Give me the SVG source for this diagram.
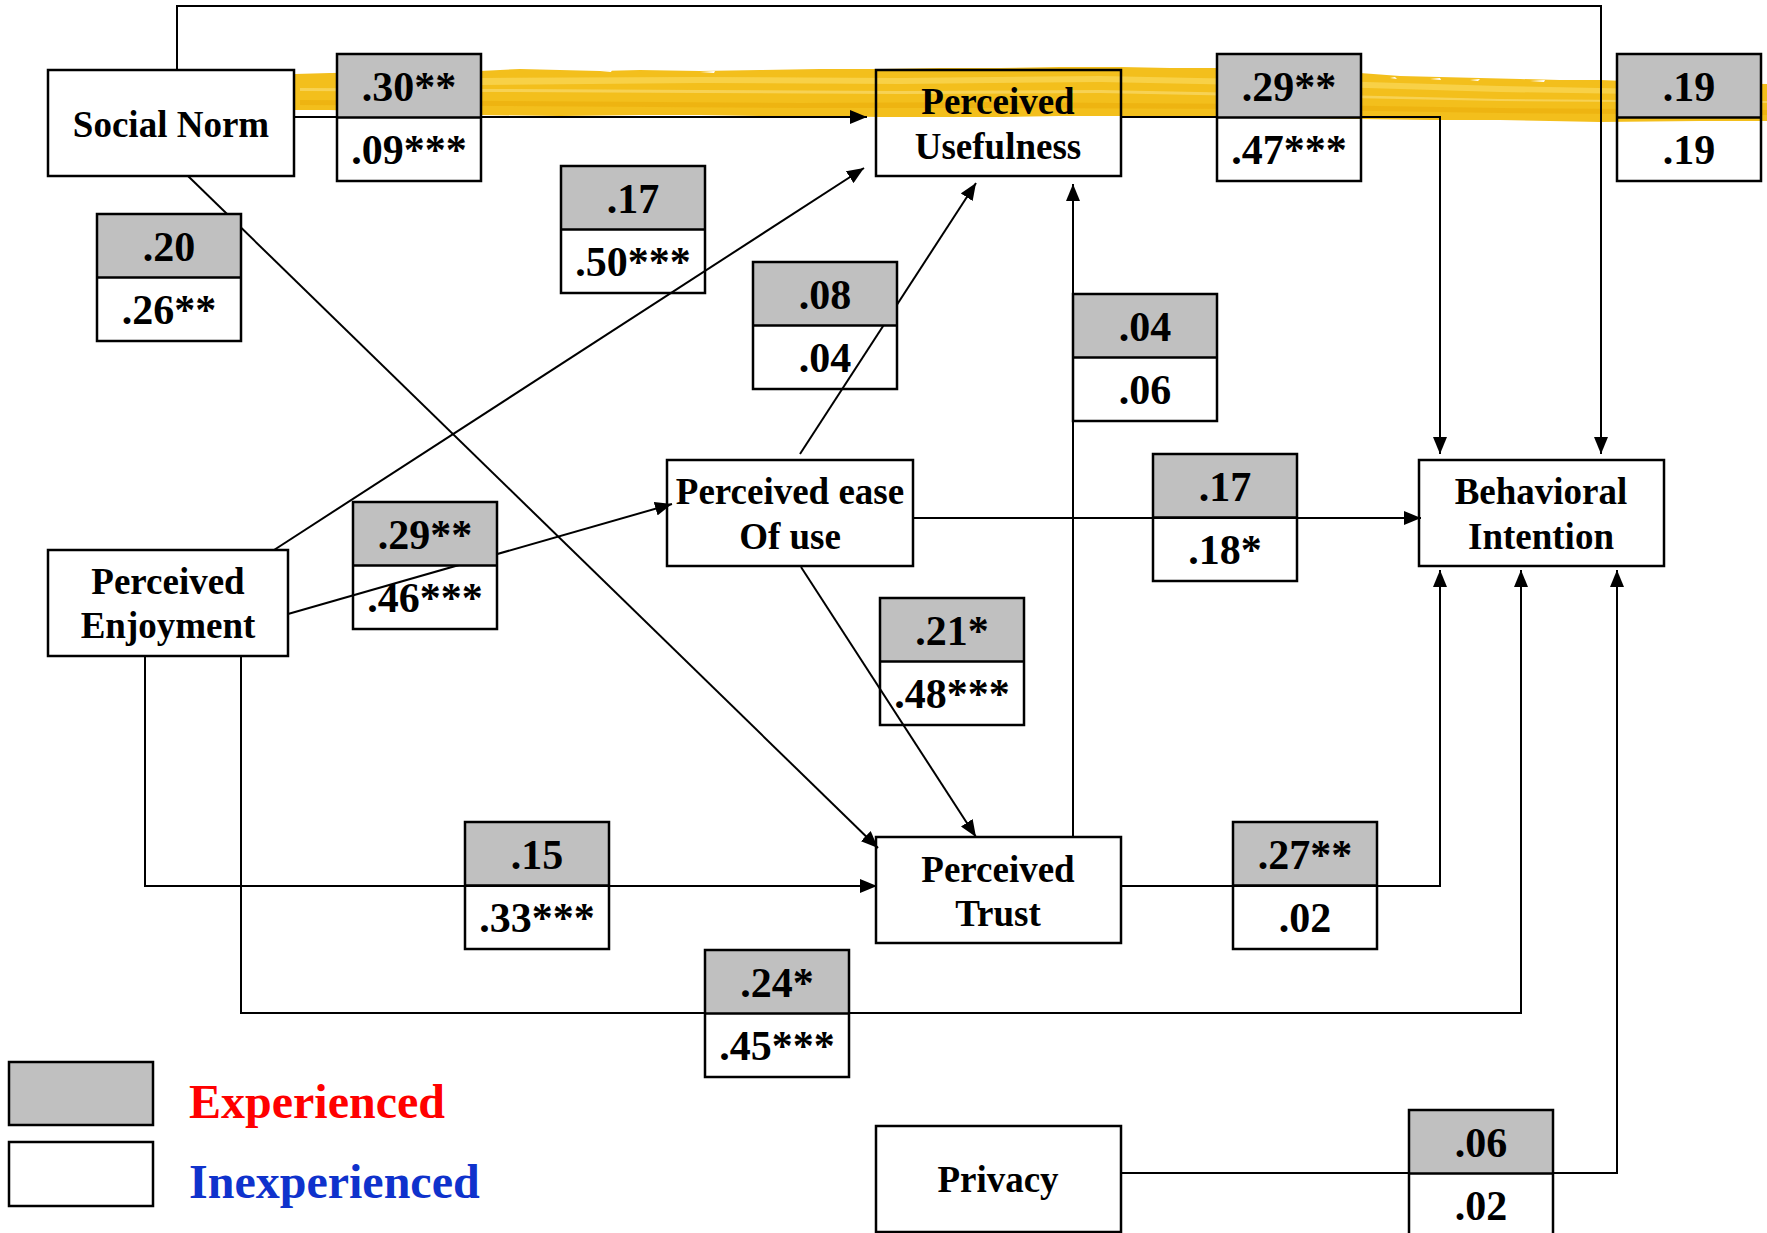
<svg xmlns="http://www.w3.org/2000/svg" width="1767" height="1233" viewBox="0 0 1767 1233">
<style>
.node{fill:none;stroke:#000;stroke-width:2.5}
.nt{font-family:"Liberation Serif","Times New Roman",serif;font-weight:bold;font-size:37px;text-anchor:middle;fill:#000}
.cv{font-family:"Liberation Serif","Times New Roman",serif;font-weight:bold;font-size:42px;text-anchor:middle;fill:#000}
.exp{fill:#C0C0C0;stroke:none}
.cb{fill:none;stroke:#000;stroke-width:2.5}
.conn{fill:none;stroke:#000;stroke-width:2}
.lg{font-family:"Liberation Serif","Times New Roman",serif;font-weight:bold;font-size:48px}
</style>
<defs>
<marker id="ah" markerUnits="userSpaceOnUse" markerWidth="18" markerHeight="14" refX="17" refY="7" orient="auto">
<path d="M0,0 L17,7 L0,14 Z" fill="#000"/>
</marker>
</defs>
<rect width="1767" height="1233" fill="#fff"/>
<g id="highlight">
<path d="M295,74 L330,73 L420,72 L450,70 L480,71 L520,69 L560,70 L600,71 L640,70 L700,71 L760,70 L820,69 L880,69 L940,68 L1000,68 L1060,67 L1120,67 L1170,68 L1220,68 L1290,70 L1360,73 L1400,76 L1440,77 L1480,78 L1520,79 L1560,80 L1600,80 L1650,82 L1700,83 L1767,84 L1767,121 L1700,121 L1600,122 L1550,121 L1500,120 L1430,120 L1360,119 L1290,118 L1220,117 L1170,116 L1120,116 L1060,116 L1000,117 L940,117 L880,117 L820,116 L760,116 L700,115 L640,115 L560,116 L480,115 L440,113 L400,112 L360,111 L330,110 L295,110 Z" fill="#F3BF1C"/>
<path d="M480,78 L700,77 L900,78 L1100,76 L1300,80 L1500,86 L1700,90 L1700,95 L1500,92 L1300,86 L1100,82 L900,84 L700,83 L480,85 Z" fill="#F9D85A" opacity="0.7"/>
<path d="M300,88 L500,89 L700,90 L900,91 L1100,90 L1300,94 L1500,99 L1767,101 L1767,103 L1500,101 L1300,97 L1100,93 L900,94 L700,93 L500,92 L300,91 Z" fill="#FAE07A" opacity="0.6"/>
<path d="M300,100 L500,101 L800,103 L1000,102 L1250,104 L1500,108 L1767,110 L1767,115 L1500,113 L1250,109 L1000,108 L800,108 L500,106 L300,105 Z" fill="#EBAE0A" opacity="0.6"/>
<path d="M1390,78 L1395,77 L1397,79 Z M1430,79 L1440,78 L1441,80 Z M1470,80 L1480,79 L1478,81 Z M1530,81 L1545,80 L1544,82 Z M600,71 L612,70 L611,72 Z M700,72 L715,71 L714,73 Z" fill="#fff"/>
</g>
<g id="node-social-norm">
<rect class="node" x="48" y="70" width="246" height="106"/>
<text class="nt" x="171" y="137">Social Norm</text>
</g>
<g id="node-perceived-usefulness">
<rect class="node" x="876" y="70" width="245" height="106"/>
<text class="nt" x="998" y="114">Perceived</text>
<text class="nt" x="998" y="159">Usefulness</text>
</g>
<g id="node-perceived-ease">
<rect class="node" x="667" y="460" width="246" height="106"/>
<text class="nt" x="790" y="504">Perceived ease</text>
<text class="nt" x="790" y="549">Of use</text>
</g>
<g id="node-behavioral-intention">
<rect class="node" x="1419" y="460" width="245" height="106"/>
<text class="nt" x="1541" y="504">Behavioral</text>
<text class="nt" x="1541" y="549">Intention</text>
</g>
<g id="node-perceived-enjoyment">
<rect class="node" x="48" y="550" width="240" height="106"/>
<text class="nt" x="168" y="594">Perceived</text>
<text class="nt" x="168" y="638">Enjoyment</text>
</g>
<g id="node-perceived-trust">
<rect class="node" x="876" y="837" width="245" height="106"/>
<text class="nt" x="998" y="882">Perceived</text>
<text class="nt" x="998" y="926">Trust</text>
</g>
<g id="node-privacy">
<rect class="node" x="876" y="1126" width="245" height="106"/>
<text class="nt" x="998" y="1192">Privacy</text>
</g>
<g id="connectors">
<polyline class="conn" points="177,70 177,6 1601,6 1601,454" marker-end="url(#ah)"/>
<line class="conn" x1="294" y1="117" x2="867" y2="117" marker-end="url(#ah)"/>
<polyline class="conn" points="1121,117 1440,117 1440,454" marker-end="url(#ah)"/>
<line class="conn" x1="188" y1="176" x2="878" y2="848" marker-end="url(#ah)"/>
<line class="conn" x1="274" y1="550" x2="864" y2="168" marker-end="url(#ah)"/>
<line class="conn" x1="288" y1="614" x2="672" y2="504" marker-end="url(#ah)"/>
<line class="conn" x1="800" y1="454" x2="976" y2="183" marker-end="url(#ah)"/>
<line class="conn" x1="801" y1="567" x2="976" y2="837" marker-end="url(#ah)"/>
<line class="conn" x1="913" y1="518" x2="1421" y2="518" marker-end="url(#ah)"/>
<line class="conn" x1="1073" y1="837" x2="1073" y2="184" marker-end="url(#ah)"/>
<polyline class="conn" points="1121,886 1440,886 1440,570" marker-end="url(#ah)"/>
<polyline class="conn" points="145,656 145,886 877,886" marker-end="url(#ah)"/>
<polyline class="conn" points="241,656 241,1013 1521,1013 1521,570" marker-end="url(#ah)"/>
<polyline class="conn" points="1121,1173 1617,1173 1617,570" marker-end="url(#ah)"/>
</g>
<g id="coef-sn-pu" transform="translate(337,54)">
<rect class="exp" width="144" height="63.5"/><rect class="cb" width="144" height="127"/><line class="cb" x1="0" y1="63.5" x2="144" y2="63.5"/>
<text class="cv" x="72" y="47">.30**</text><text class="cv" x="72" y="110">.09***</text>
</g>
<g id="coef-pu-bi" transform="translate(1217,54)">
<rect class="exp" width="144" height="63.5"/><rect class="cb" width="144" height="127"/><line class="cb" x1="0" y1="63.5" x2="144" y2="63.5"/>
<text class="cv" x="72" y="47">.29**</text><text class="cv" x="72" y="110">.47***</text>
</g>
<g id="coef-sn-bi" transform="translate(1617,54)">
<rect class="exp" width="144" height="63.5"/><rect class="cb" width="144" height="127"/><line class="cb" x1="0" y1="63.5" x2="144" y2="63.5"/>
<text class="cv" x="72" y="47">.19</text><text class="cv" x="72" y="110">.19</text>
</g>
<g id="coef-pe-pu" transform="translate(561,166)">
<rect class="exp" width="144" height="63.5"/><rect class="cb" width="144" height="127"/><line class="cb" x1="0" y1="63.5" x2="144" y2="63.5"/>
<text class="cv" x="72" y="47">.17</text><text class="cv" x="72" y="110">.50***</text>
</g>
<g id="coef-sn-pt" transform="translate(97,214)">
<rect class="exp" width="144" height="63.5"/><rect class="cb" width="144" height="127"/><line class="cb" x1="0" y1="63.5" x2="144" y2="63.5"/>
<text class="cv" x="72" y="47">.20</text><text class="cv" x="72" y="110">.26**</text>
</g>
<g id="coef-peou-pu" transform="translate(753,262)">
<rect class="exp" width="144" height="63.5"/><rect class="cb" width="144" height="127"/><line class="cb" x1="0" y1="63.5" x2="144" y2="63.5"/>
<text class="cv" x="72" y="47">.08</text><text class="cv" x="72" y="110">.04</text>
</g>
<g id="coef-pt-pu" transform="translate(1073,294)">
<rect class="exp" width="144" height="63.5"/><rect class="cb" width="144" height="127"/><line class="cb" x1="0" y1="63.5" x2="144" y2="63.5"/>
<text class="cv" x="72" y="47">.04</text><text class="cv" x="72" y="110">.06</text>
</g>
<g id="coef-peou-bi" transform="translate(1153,454)">
<rect class="exp" width="144" height="63.5"/><rect class="cb" width="144" height="127"/><line class="cb" x1="0" y1="63.5" x2="144" y2="63.5"/>
<text class="cv" x="72" y="47">.17</text><text class="cv" x="72" y="110">.18*</text>
</g>
<g id="coef-pe-peou" transform="translate(353,502)">
<rect class="exp" width="144" height="63.5"/><rect class="cb" width="144" height="127"/><line class="cb" x1="0" y1="63.5" x2="144" y2="63.5"/>
<text class="cv" x="72" y="47">.29**</text><text class="cv" x="72" y="110">.46***</text>
</g>
<g id="coef-peou-pt" transform="translate(880,598)">
<rect class="exp" width="144" height="63.5"/><rect class="cb" width="144" height="127"/><line class="cb" x1="0" y1="63.5" x2="144" y2="63.5"/>
<text class="cv" x="72" y="47">.21*</text><text class="cv" x="72" y="110">.48***</text>
</g>
<g id="coef-pe-pt" transform="translate(465,822)">
<rect class="exp" width="144" height="63.5"/><rect class="cb" width="144" height="127"/><line class="cb" x1="0" y1="63.5" x2="144" y2="63.5"/>
<text class="cv" x="72" y="47">.15</text><text class="cv" x="72" y="110">.33***</text>
</g>
<g id="coef-pt-bi" transform="translate(1233,822)">
<rect class="exp" width="144" height="63.5"/><rect class="cb" width="144" height="127"/><line class="cb" x1="0" y1="63.5" x2="144" y2="63.5"/>
<text class="cv" x="72" y="47">.27**</text><text class="cv" x="72" y="110">.02</text>
</g>
<g id="coef-pe-bi" transform="translate(705,950)">
<rect class="exp" width="144" height="63.5"/><rect class="cb" width="144" height="127"/><line class="cb" x1="0" y1="63.5" x2="144" y2="63.5"/>
<text class="cv" x="72" y="47">.24*</text><text class="cv" x="72" y="110">.45***</text>
</g>
<g id="coef-privacy-bi" transform="translate(1409,1110)">
<rect class="exp" width="144" height="63.5"/><rect class="cb" width="144" height="127"/><line class="cb" x1="0" y1="63.5" x2="144" y2="63.5"/>
<text class="cv" x="72" y="47">.06</text><text class="cv" x="72" y="110">.02</text>
</g>
<g id="legend">
<rect x="9" y="1062" width="144" height="63" fill="#C0C0C0" stroke="#000" stroke-width="2.5"/>
<rect x="9" y="1142" width="144" height="64" fill="none" stroke="#000" stroke-width="2.5"/>
<text class="lg" x="189" y="1118" fill="#FF0000">Experienced</text>
<text class="lg" x="189" y="1198" fill="#0F32CC">Inexperienced</text>
</g>
</svg>
